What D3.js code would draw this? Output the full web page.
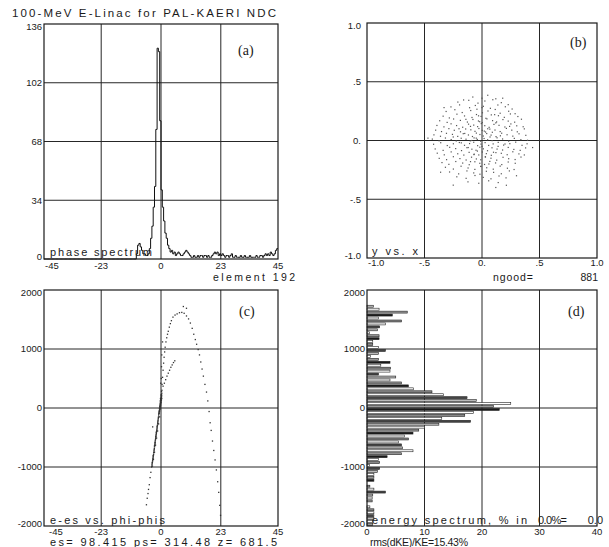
<!DOCTYPE html>
<html>
<head>
<meta charset="utf-8">
<script src="https://cdn.jsdelivr.net/npm/d3@7"></script>
<style>
body { margin: 0; background: #fff; }
svg { display: block; }
</style>
</head>
<body>
<svg id="fig" width="609" height="547"></svg>
<script>
const title = "100-MeV E-Linac for PAL-KAERI NDC";

// (a) phase spectrum, 0.5 deg bins starting at -45
const phaseMin = -45, phaseBinWidth = 0.5;
const phaseCounts = [
  0,0,0,0,0,0,0,0,0,0, 0,0,0,0,0,0,0,0,0,0,
  0,0,0,0,0,0,0,0,0,0, 0,0,0,0,0,0,0,0,0,0,
  0,0,0,0,0,0,0,0,0,0, 0,0,0,0,0,0,0,0,0,0,
  0,0,0,0,0,0,0,0,0,0,
  0,3,8,9,7,5,3,3,2,2, 3,6,12,19,30,42,75,122,120,80,
  40,30,22,15,12,8,6,4,5,3,
  4,2,3,4,3,2,2,3,4,5, 4,3,2,1,1,2,1,1,2,1,
  2,2,1,2,2,1,2,1,1,2, 3,4,3,4,2,3,2,3,2,1,
  2,2,1,2,3,1,1,2,1,1, 1,2,1,1,2,1,1,1,2,1,
  1,1,1,2,1,1,2,2,1,2, 3,2,3,2,4,3,2,3,5,6
];
const phaseTicks = [-45, -23, 0, 23, 45];
const countTicks = [0, 34, 68, 102, 136];

// (b) y vs. x
const spotXY = [
  [-0.08,0.37],[0.05,0.385],[0.12,0.355],[-0.16,0.345],[0.0,0.36],
  [-0.21,0.327],[-0.115,0.342],[-0.035,0.318],[0.025,0.336],[0.094,0.347],[0.168,0.322],[0.228,0.305],
  [-0.27,0.286],[-0.195,0.303],[-0.108,0.279],[-0.058,0.298],[0.012,0.291],[0.073,0.274],[0.138,0.302],[0.203,0.287],[0.262,0.268],
  [-0.312,0.247],[-0.236,0.262],[-0.172,0.238],[-0.098,0.255],[-0.044,0.266],[0.004,0.236],[0.052,0.251],[0.115,0.264],[0.158,0.232],[0.232,0.249],[0.288,0.228],
  [-0.338,0.207],[-0.284,0.192],[-0.218,0.224],[-0.152,0.209],[-0.087,0.196],[-0.048,0.221],[-0.008,0.205],[0.034,0.189],[0.081,0.218],[0.143,0.211],[0.194,0.197],[0.247,0.226],[0.312,0.204],
  [-0.368,0.168],[-0.303,0.154],[-0.247,0.183],[-0.188,0.171],[-0.127,0.157],[-0.079,0.179],[-0.031,0.166],[0.003,0.152],[0.043,0.184],[0.092,0.169],[0.127,0.158],[0.182,0.178],[0.228,0.165],[0.284,0.156],[0.343,0.181],
  [-0.392,0.128],[-0.331,0.116],[-0.269,0.142],[-0.221,0.127],[-0.168,0.113],[-0.117,0.139],[-0.072,0.131],[-0.038,0.118],[-0.006,0.144],[0.024,0.126],[0.062,0.112],[0.104,0.137],[0.148,0.129],[0.199,0.115],[0.251,0.141],[0.302,0.125],[0.358,0.117],
  [-0.403,0.088],[-0.352,0.076],[-0.288,0.101],[-0.241,0.087],[-0.187,0.074],[-0.142,0.098],[-0.097,0.091],[-0.061,0.078],[-0.027,0.102],[0.002,0.086],[0.031,0.072],[0.068,0.097],[0.113,0.089],[0.158,0.076],[0.212,0.103],[0.259,0.088],[0.307,0.074],[0.368,0.099],
  [-0.418,0.048],[-0.361,0.036],[-0.309,0.061],[-0.257,0.052],[-0.211,0.035],[-0.163,0.058],[-0.118,0.047],[-0.083,0.034],[-0.049,0.063],[-0.018,0.051],[0.011,0.038],[0.041,0.059],[0.079,0.046],[0.122,0.033],[0.171,0.062],[0.218,0.049],[0.268,0.037],[0.322,0.057],[0.381,0.044],
  [-0.432,0.012],[-0.373,-0.002],[-0.318,0.021],[-0.268,0.008],[-0.224,-0.004],[-0.181,0.019],[-0.139,0.011],[-0.102,-0.003],[-0.069,0.022],[-0.041,0.009],[-0.012,-0.006],[0.018,0.017],[0.049,0.006],[0.088,-0.001],[0.131,0.023],[0.179,0.013],[0.232,-0.005],[0.281,0.018],[0.338,0.007],[0.396,0.002],
  [-0.421,-0.032],[-0.359,-0.019],[-0.302,-0.043],[-0.249,-0.028],[-0.197,-0.017],[-0.152,-0.041],[-0.108,-0.026],[-0.072,-0.015],[-0.038,-0.044],[-0.009,-0.031],[0.027,-0.018],[0.058,-0.042],[0.097,-0.029],[0.141,-0.016],[0.188,-0.039],[0.242,-0.027],[0.293,-0.014],[0.348,-0.041],[0.392,-0.028],
  [-0.407,-0.072],[-0.338,-0.084],[-0.281,-0.058],[-0.229,-0.069],[-0.178,-0.086],[-0.131,-0.061],[-0.088,-0.074],[-0.052,-0.083],[-0.019,-0.057],[0.012,-0.071],[0.048,-0.087],[0.087,-0.062],[0.131,-0.073],[0.179,-0.081],[0.228,-0.059],[0.277,-0.076],[0.332,-0.084],[0.379,-0.063],
  [-0.389,-0.108],[-0.328,-0.122],[-0.268,-0.097],[-0.211,-0.113],[-0.158,-0.124],[-0.112,-0.101],[-0.068,-0.116],[-0.028,-0.123],[0.003,-0.098],[0.038,-0.112],[0.081,-0.126],[0.121,-0.103],[0.168,-0.109],[0.219,-0.121],[0.268,-0.096],[0.321,-0.114],[0.368,-0.123],
  [-0.372,-0.152],[-0.308,-0.163],[-0.249,-0.138],[-0.192,-0.154],[-0.138,-0.166],[-0.091,-0.142],[-0.049,-0.157],[-0.011,-0.164],[0.029,-0.139],[0.078,-0.151],[0.128,-0.167],[0.183,-0.143],[0.232,-0.155],[0.288,-0.162],[0.339,-0.141],
  [-0.348,-0.188],[-0.288,-0.203],[-0.228,-0.179],[-0.168,-0.192],[-0.111,-0.206],[-0.062,-0.181],[-0.019,-0.194],[0.022,-0.204],[0.068,-0.178],[0.118,-0.191],[0.172,-0.205],[0.228,-0.183],[0.289,-0.194],
  [-0.318,-0.228],[-0.249,-0.243],[-0.182,-0.219],[-0.121,-0.234],[-0.062,-0.246],[-0.011,-0.221],[0.041,-0.232],[0.098,-0.244],[0.158,-0.218],[0.221,-0.236],[0.279,-0.247],
  [-0.282,-0.268],[-0.203,-0.284],[-0.131,-0.259],[-0.072,-0.276],[-0.018,-0.287],[0.038,-0.262],[0.101,-0.271],[0.168,-0.283],[0.238,-0.259],
  [-0.219,-0.309],[-0.138,-0.322],[-0.061,-0.298],[0.011,-0.314],[0.078,-0.326],[0.148,-0.302],[0.209,-0.318],
  [-0.122,-0.352],[-0.028,-0.364],[0.058,-0.343],[0.141,-0.358],[0.212,-0.381],
  [-0.15,0.06],[-0.1,0.12],[-0.05,0.02],[0.0,-0.05],[0.05,0.1],[0.1,-0.1],[-0.12,-0.06],[0.07,0.03],[-0.02,0.16],[0.03,-0.14],
  [-0.18,-0.02],[0.16,0.04],[-0.07,-0.12],[0.12,0.15],[-0.14,0.18],[0.0,0.28],[-0.01,-0.22],[0.2,-0.03],[-0.25,0.03],[0.02,0.08],
  [-0.09,0.0],[0.09,0.07],[-0.04,-0.09],[0.14,-0.05],[-0.2,0.1],[0.24,0.12],[-0.1,-0.18],[0.06,-0.2],[-0.03,0.21],[0.11,0.22],
  [-0.47,0.02],[0.44,-0.06],[0.3,-0.3],[-0.33,0.28],[0.18,0.36],[-0.36,-0.27],[0.12,-0.4],[-0.25,-0.38]
];
const unitTicks = [-1, -0.5, 0, 0.5, 1];
const unitLabels = ["-1.0", "-.5", "0.", ".5", "1.0"];

// (c) e-es vs. phi-phis
const phaseEnergyXY = [
  [-0.9,-120],[-0.8,-90],[-0.7,-60],[-0.6,-40],[-0.5,-20],[-0.45,0],[-0.4,10],[-0.35,30],[-0.3,40],[-0.25,60],
  [-0.2,70],[-0.15,90],[-0.1,100],[-0.05,120],[0,130],[0.05,150],[0.1,160],[0.15,180],[0.2,190],[0.25,210],
  [-0.6,-10],[-0.5,20],[-0.4,50],[-0.3,80],[-0.2,100],[-0.1,140],[0,170],[0.1,200],[0.2,230],[0.3,250],
  [-0.7,-90],[-0.55,-60],[-0.45,-30],[-0.35,-10],[-0.25,20],[-0.15,40],[-0.05,70],[0.05,100],[0.15,130],[0.3,160],
  [-1.0,-160],[-1.1,-200],[-1.2,-230],[-0.3,120],[-0.2,160],[0.0,220],[0.2,280],[0.35,300],
  [-1.3,-270],[-1.4,-300],[-1.5,-340],[-1.6,-370],[-1.7,-400],[-1.8,-430],[-1.9,-460],[-2.0,-500],[-2.1,-530],[-2.2,-560],
  [-2.3,-600],[-2.4,-630],[-2.5,-660],[-2.6,-700],[-2.7,-730],[-2.8,-760],[-2.9,-800],[-3.0,-830],[-3.1,-860],[-3.2,-890],
  [-3.3,-920],[-3.45,-960],[-3.6,-1000],[-1.5,-320],[-2.0,-480],[-2.5,-640],[-3.0,-810],[-1.2,-260],[-1.8,-410],[-2.3,-580],
  [-3.55,-985],[-3.4,-940],[-3.35,-925],[-3.25,-900],[-3.15,-870],[-3.05,-845],[-2.95,-815],[-2.85,-785],[-2.75,-750],[-2.65,-715],
  [-2.55,-685],[-2.45,-645],[-2.35,-615],[-2.25,-585],[-2.15,-545],[-2.05,-515],[-1.95,-480],[-1.85,-450],[-1.75,-420],[-1.65,-385],
  [-1.55,-355],[-1.45,-320],[-1.35,-290],[-1.25,-250],[-1.15,-215],[-1.05,-180],[-0.95,-150],[-0.85,-105],[-0.75,-75],[-0.65,-50],
  [-3.3,-985],[-2.9,-870],[-2.5,-750],[-2.1,-630],[-1.7,-510],[-1.3,-390],[-0.9,-270],[-0.5,-150],
  [-3.9,-1090],[-4.2,-1180],[-4.5,-1300],[-4.8,-1380],[-5.0,-1450],[-5.3,-1530],[-5.6,-1640],[-3.2,-320],
  [0.4,400],[0.6,520],[0.8,640],[1.0,760],[1.2,860],[1.4,950],[1.6,1030],[1.9,1120],[2.2,1190],[2.5,1250],
  [2.8,1300],[3.2,1370],[3.6,1430],[4.0,1480],[4.6,1540],[5.4,1575],[6.2,1595],[7.1,1615],
  [8.0,1620],[8.9,1605],[9.8,1560],[10.6,1510],[11.3,1440],[12.0,1350],[12.6,1250],[13.2,1160],
  [13.7,1080],[14.3,990],[14.8,900],[15.3,780],[15.8,660],[16.3,540],[16.9,400],[17.5,270],[18.0,120],[18.5,-60],
  [18.9,-250],[19.3,-380],[19.8,-560],[20.3,-720],[20.8,-880],[21.3,-1050],[21.8,-1250],[22.2,-1430],[22.6,-1650],[22.9,-1820],
  [8.6,1720],[9.8,1690],
  [0.8,370],[1.3,420],[1.8,480],[2.3,540],[2.8,590],[3.3,640],[3.8,690],[4.3,730],[4.8,770],[5.3,800],
  [0.1,500],[0.2,700],[0.3,900],[-0.1,420],[0.6,1120]
];
const energyTicks = [-2000, -1000, 0, 1000, 2000];

// (d) energy spectrum, 50-unit bins from 2000 down to -2000, in %
const energyTop = 2000, energyBinWidth = 50;
const energyPct = [
  0,0,0,0,0, 1.1,2.1,7.0,4.4,2.0,
  6.0,3.2,2.2,1.8,0.4, 2.1,2.1,1.0,1.0,2.0,
  3.2,2.0,0.6,2.0,4.0, 2.4,4.1,4.0,2.0,5.0,
  4.0,6.0,7.2,8.1,11.3, 13.3,17.4,19.0,25.0,22.0,
  23.0,18.5,17.0,13.0,18.0, 12.5,10.0,9.0,8.0,6.5,
  7.2,5.5,6.0,6.2,8.0, 6.0,3.5,2.0,2.2,0.4,
  2.2,1.8,1.2,1.2,1.2, 0,0.5,1.2,3.2,1.0,
  0.9,0.9,0,0.5,1.2, 1.2,1.2,1.2,1.0,1.0
];
const pctTicks = [0, 10, 20, 30, 40];

const svg = d3.select("#fig");
const sans = "'Liberation Sans', Arial, sans-serif";
const serif = "'Liberation Serif', 'Times New Roman', serif";

function label(txt, x, y, opts = {}) {
  const t = svg.append("text")
    .attr("x", x).attr("y", y)
    .attr("font-family", opts.family || sans)
    .attr("font-size", opts.size || 10.5)
    .attr("fill", "#1a1a1a")
    .attr("text-anchor", opts.anchor || "start")
    .text(txt);
  if (opts.len) t.attr("textLength", opts.len).attr("lengthAdjust", "spacing");
  return t;
}

function panel(b, xDom, yDom, xTicks, xLabels, yTicks, yLabels, o) {
  const x = d3.scaleLinear().domain(xDom).range([b.x0, b.x1]);
  const y = d3.scaleLinear().domain(yDom).range([b.y1, b.y0]);
  const g = svg.append("g");
  const grid = g.append("g").attr("stroke", "#262626").attr("stroke-width", 1);
  grid.selectAll(".gx").data(xTicks.slice(1, -1)).join("line")
    .attr("x1", d => x(d)).attr("x2", d => x(d))
    .attr("y1", b.y0).attr("y2", b.y1);
  grid.selectAll(".gy").data(yTicks.slice(1, -1)).join("line")
    .attr("y1", d => y(d)).attr("y2", d => y(d))
    .attr("x1", b.x0).attr("x2", b.x1);
  const data = g.append("g");
  g.append("rect")
    .attr("x", b.x0).attr("y", b.y0)
    .attr("width", b.x1 - b.x0).attr("height", b.y1 - b.y0)
    .attr("fill", "none").attr("stroke", "#1a1a1a").attr("stroke-width", 1.2);

  // tick labels
  xTicks.forEach((t, i) => {
    if (i === 0 && o.firstStart) label(xLabels[i], b.x0 + o.firstStart, o.xLabelY, {size: 9.5});
    else label(xLabels[i], x(t), o.xLabelY, {size: 9.5, anchor: "middle"});
  });
  yTicks.forEach((t, i) => {
    let yy = y(t) + 3.3;
    if (i === 0) yy = b.y1 + 1;
    if (i === yTicks.length - 1) yy = b.y0 + 5.5;
    label(yLabels[i], o.yLabelX, yy, {size: 9.5, anchor: "end"});
  });
  return {x, y, data};
}

// title
label(title, 12, 17, {size: 11.5, len: 264});

// (a)
const pa = panel({x0: 44, x1: 278, y0: 24, y1: 259}, [-45, 45], [0, 136],
  phaseTicks, phaseTicks.map(String), countTicks, countTicks.map(String),
  {xLabelY: 268.5, yLabelX: 42, firstStart: 1});
const stepPts = phaseCounts.map((v, i) => [phaseMin + i * phaseBinWidth, v]);
stepPts.push([phaseMin + phaseCounts.length * phaseBinWidth, phaseCounts[phaseCounts.length - 1]]);
pa.data.append("path")
  .attr("d", d3.line().x(d => pa.x(d[0])).y(d => pa.y(d[1])).curve(d3.curveStepAfter)(stepPts))
  .attr("fill", "none").attr("stroke", "#111").attr("stroke-width", 1);
label("phase spectrum", 50, 256, {size: 11, len: 102});
label("element  192", 213, 281, {size: 10.5, len: 82});
label("(a)", 238, 55, {family: serif, size: 14});

// (b)
const pb = panel({x0: 367, x1: 597, y0: 23, y1: 258}, [-1, 1], [-1, 1],
  unitTicks, unitLabels, unitTicks, unitLabels,
  {xLabelY: 266, yLabelX: 361, firstStart: 1});
pb.data.selectAll("rect").data(spotXY).join("rect")
  .attr("x", d => pb.x(d[0]) - 0.6).attr("y", d => pb.y(d[1]) - 0.6)
  .attr("width", 1.2).attr("height", 1.2).attr("fill", "#555");
label("y vs. x", 372, 254.5, {size: 11, len: 46});
label("ngood=", 493, 281, {size: 10.5, len: 40});
label("881", 598, 281, {size: 10.5, anchor: "end"});
label("(b)", 570, 47, {family: serif, size: 14});

// (c)
const pc = panel({x0: 44, x1: 278, y0: 290, y1: 526}, [-45, 45], [-2000, 2000],
  phaseTicks, phaseTicks.map(String), energyTicks, energyTicks.map(String),
  {xLabelY: 535, yLabelX: 42, firstStart: 5});
pc.data.selectAll("rect").data(phaseEnergyXY).join("rect")
  .attr("x", d => pc.x(d[0]) - 0.65).attr("y", d => pc.y(d[1]) - 0.65)
  .attr("width", 1.3).attr("height", 1.3).attr("fill", "#333");
label("e-es vs. phi-phis", 50, 524, {size: 11, len: 115});
label("es= 98.415 ps= 314.48 z= 681.5", 50, 546, {size: 11, len: 227});
label("(c)", 239, 316, {family: serif, size: 14});

// (d)
const pd = panel({x0: 367, x1: 597, y0: 290, y1: 526}, [0, 40], [-2000, 2000],
  pctTicks, pctTicks.map(String), energyTicks, energyTicks.map(String),
  {xLabelY: 535, yLabelX: 365});
const shades = ["#1a1a1a", "#fff", "#888", "#fff", "#444", "#bbb", "#fff", "#999"];
pd.data.selectAll("rect").data(energyPct).join("rect")
  .attr("x", pd.x(0))
  .attr("y", (d, i) => pd.y(energyTop - i * energyBinWidth) + 0.5)
  .attr("width", d => pd.x(d) - pd.x(0))
  .attr("height", (d, i) => pd.y(energyTop - (i + 1) * energyBinWidth) - pd.y(energyTop - i * energyBinWidth) - 1.0)
  .attr("fill", (d, i) => shades[i % shades.length])
  .attr("stroke", "#222").attr("stroke-width", 0.6);
label("energy spectrum, % in", 372, 524, {size: 11, len: 155});
label("0.0%=", 538, 524, {size: 11, len: 29});
label("0.0", 603, 524, {size: 11, anchor: "end"});
label("rms(dKE)/KE=15.43%", 370, 546, {size: 10.5, len: 98});
label("(d)", 568, 316, {family: serif, size: 14});
</script>
</body>
</html>
